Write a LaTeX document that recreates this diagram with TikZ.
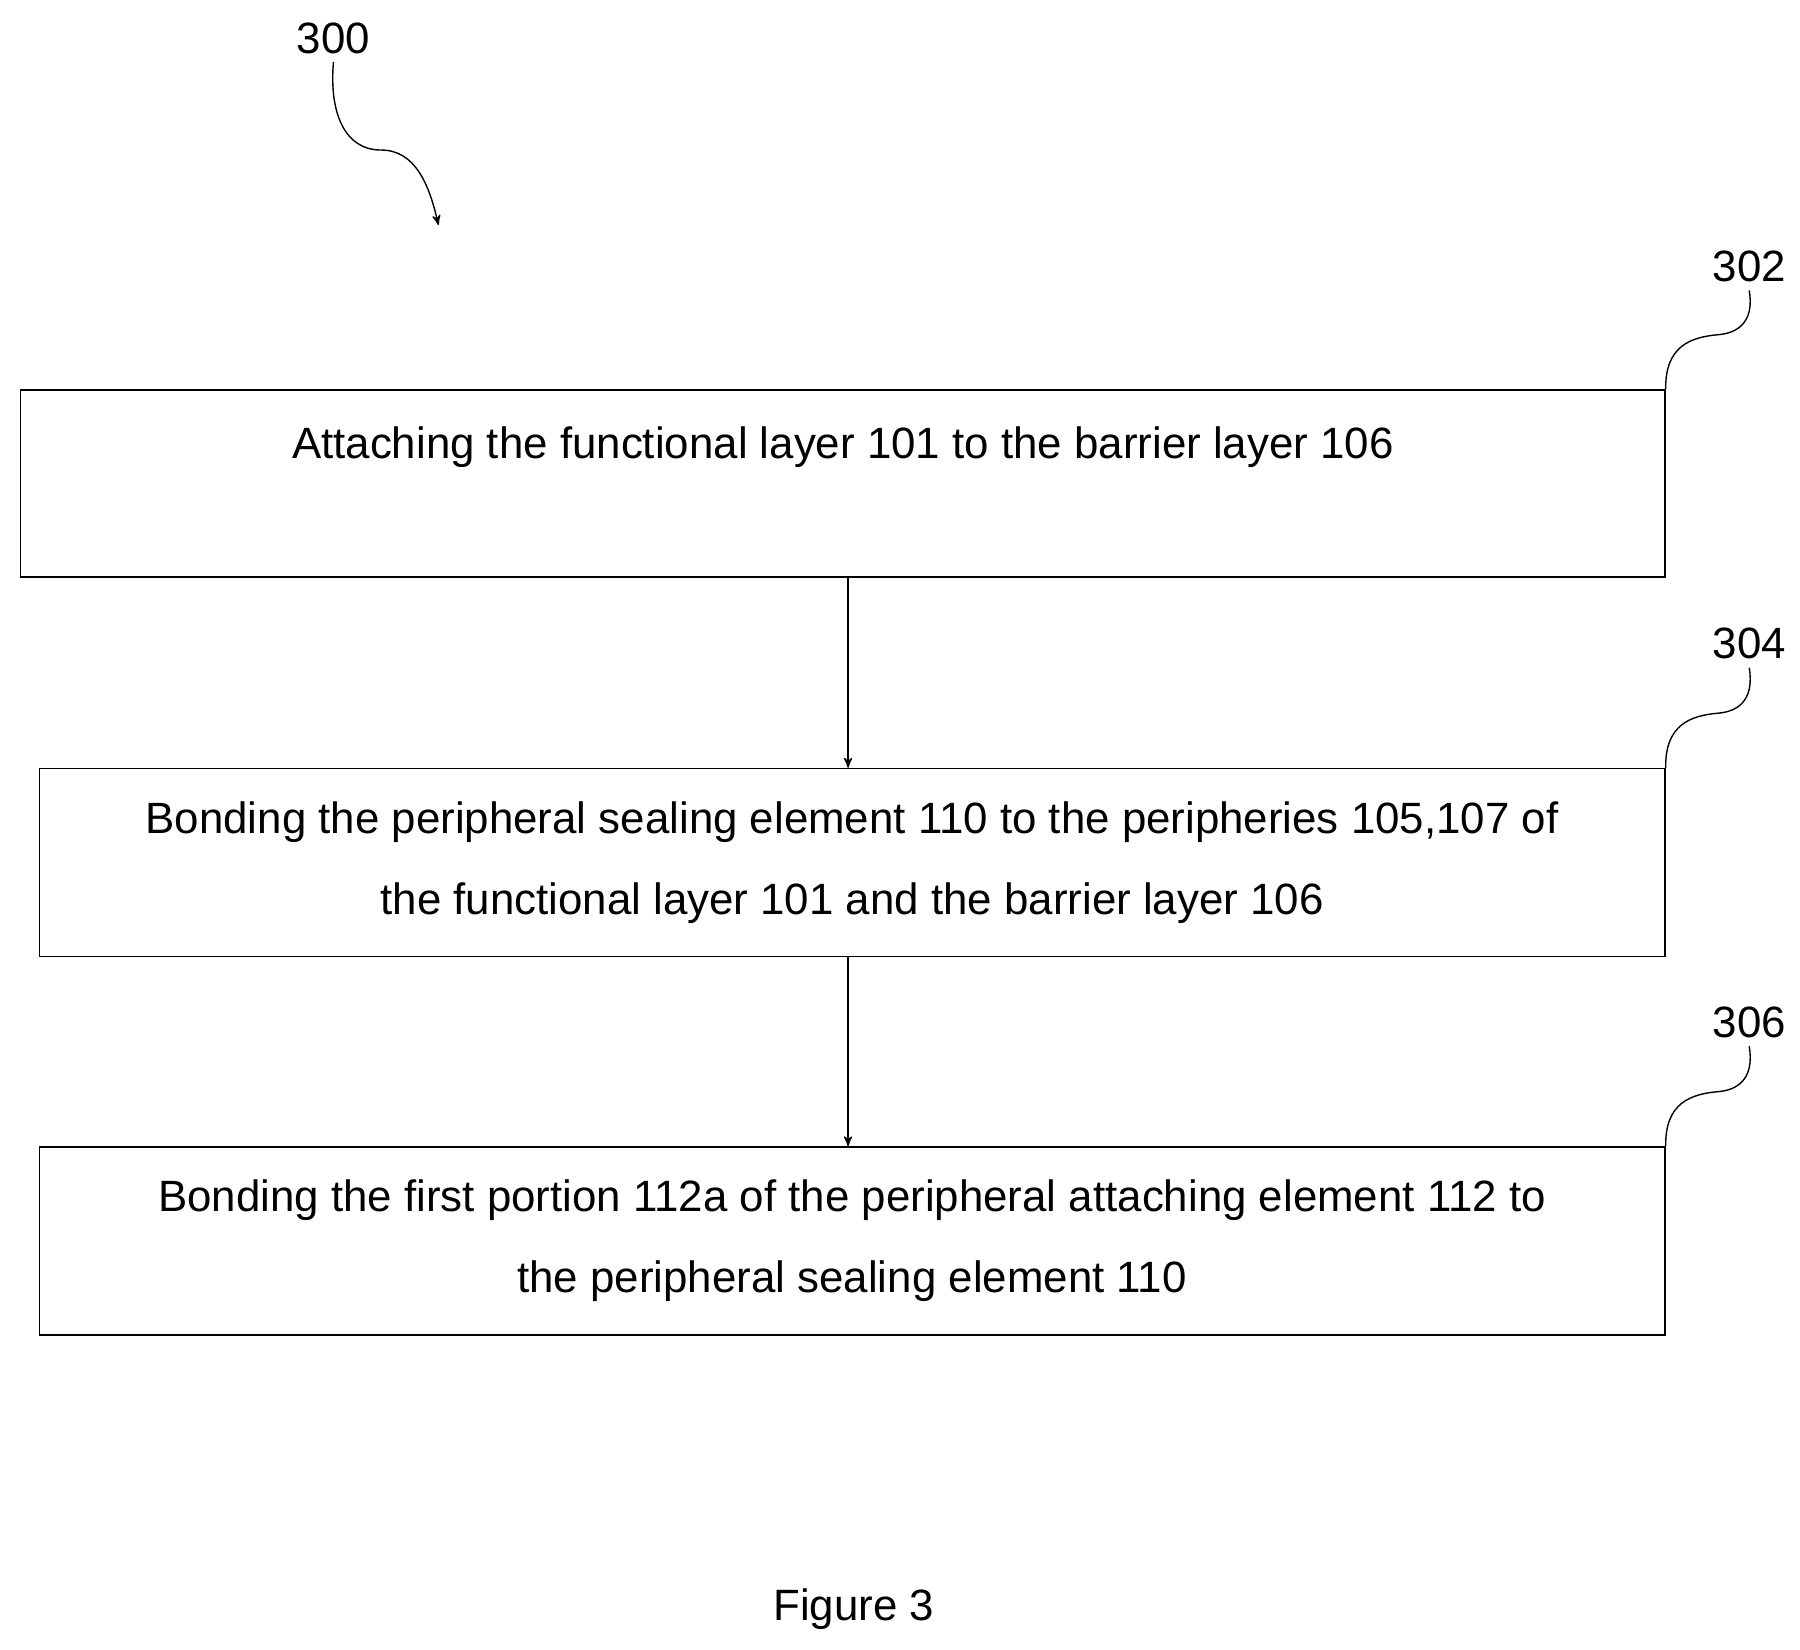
\documentclass[tikz,border=0pt]{standalone}
\usepackage{fontspec}
\setmainfont{Liberation Sans}
\usetikzlibrary{arrows}

\begin{document}
\begin{tikzpicture}[x=0.5pt, y=-0.5pt, >=stealth', semithick,
  stepbox/.style={draw, rectangle, inner sep=0pt, align=center,
    font=\fontsize{19pt}{35pt}\selectfont},
  ref/.style={font=\fontsize{19pt}{22pt}\selectfont}]
\useasboundingbox (0,0) rectangle (1560,1430);
\node[stepbox, minimum width=712.5pt, minimum height=81pt] (s302) at (730.5,419)
  {Attaching the functional layer 101 to the barrier layer 106\\ \mbox{}};
\node[stepbox, minimum width=704.5pt, minimum height=81.5pt] (s304) at (738.5,747.5)
  {Bonding the peripheral sealing element 110 to the peripheries 105,107 of\\the functional layer 101 and the barrier layer 106};
\node[stepbox, minimum width=704.5pt, minimum height=81.5pt] (s306) at (738.5,1075.5)
  {Bonding the first portion 112a of the peripheral attaching element 112 to\\the peripheral sealing element 110};
\node[ref] (l300) at (289,33) {300};
\node[ref] (l302) at (1516,231) {302};
\node[ref] (l304) at (1516,558) {304};
\node[ref] (l306) at (1516,886) {306};
\node[ref] (fig) at (740,1395) {Figure 3};
% arrows between steps
\draw[->] (s302.south -| 735,0) -- (s304.north -| 735,0);
\draw[->] (s304.south -| 735,0) -- (s306.north -| 735,0);
% leaders
\draw (s302.north east) .. controls (1443,300) and (1465,292) .. (1490,290)
  .. controls (1510,288) and (1520,275) .. (l302.south);
\draw (s304.north east) .. controls (1443,628) and (1465,620) .. (1490,618)
  .. controls (1510,616) and (1520,603) .. (l304.south);
\draw (s306.north east) .. controls (1443,956) and (1465,948) .. (1490,946)
  .. controls (1510,944) and (1520,931) .. (l306.south);
\coordinate (tip) at (380,195);
\draw[->] (l300.south) .. controls (285,100) and (300,130) .. (330,130)
  .. controls (360,130) and (372,160) .. (tip);
\end{tikzpicture}
\end{document}
